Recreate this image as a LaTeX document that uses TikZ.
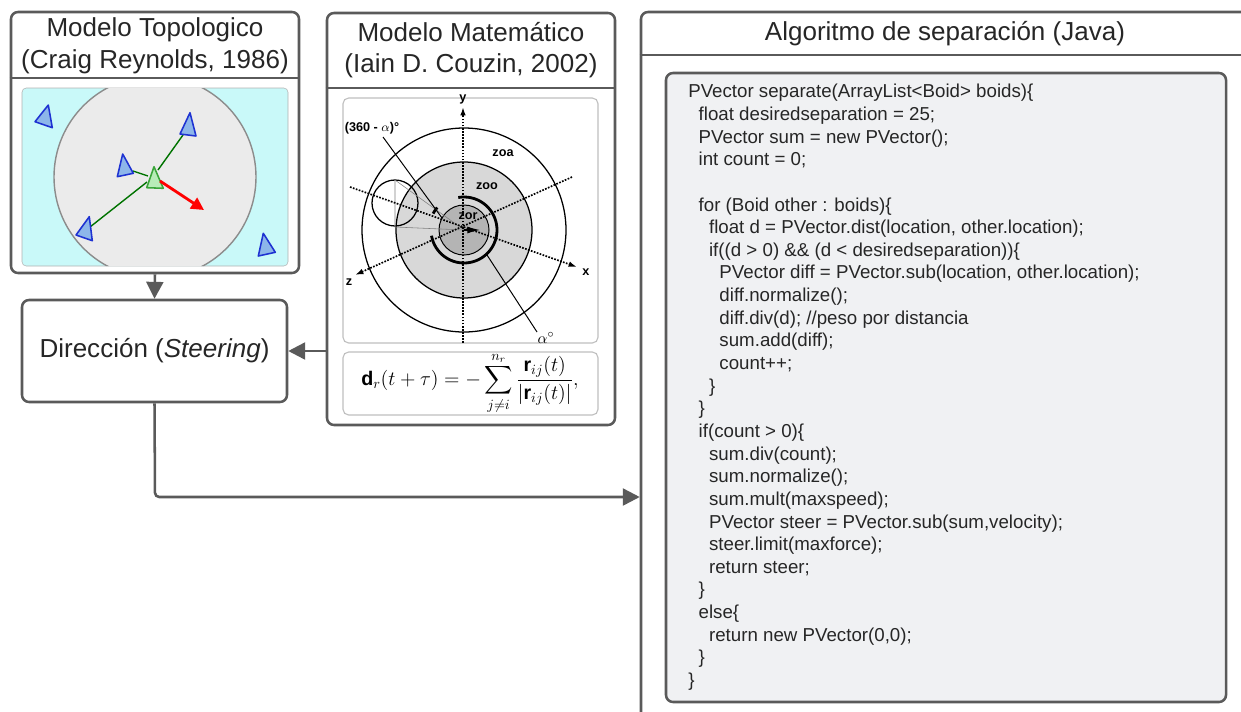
\documentclass[tikz,border=0pt]{standalone}
\usepackage{fontspec}
\setmainfont{Liberation Sans}
\usepackage{amsmath, amssymb}
\usepackage{tikz}
\usetikzlibrary{arrows.meta, positioning, fit, calc}

\definecolor{edge}{HTML}{5A5A5A}
\definecolor{skyfill}{HTML}{C9F9F9}
\definecolor{diskfill}{HTML}{EBEBEB}
\definecolor{boidblue}{HTML}{1E32D2}
\definecolor{boidfill}{HTML}{8DB6EA}
\definecolor{leadfill}{HTML}{B8ECB8}
\definecolor{leadedge}{HTML}{3AA53A}
\definecolor{codefill}{HTML}{F0F1F3}
\definecolor{zoofill}{HTML}{D8D8D8}
\definecolor{zorfill}{HTML}{B4B4B4}

\newlength{\codestep}
\setlength{\codestep}{2.6mm}

\begin{document}
\begin{tikzpicture}[x=0.025cm, y=-0.025cm,
    panel/.style={draw=edge, line width=1.8pt, rounded corners=5pt, inner sep=0pt},
    flow/.style={draw=edge, line width=1.8pt, rounded corners=3pt, -{Triangle[length=12pt, width=12pt]}},
    title/.style={font=\fontsize{18.5}{22.5}\selectfont, align=center, text=black!85},
    boid/.style={draw=boidblue, fill=boidfill, line width=1.1pt, line join=round},
    link/.style={green!45!black, line width=1pt},
    axis/.style={densely dotted, line width=1.2pt},
    tag/.style={font=\bfseries\fontsize{9}{10}\selectfont, inner sep=1pt}]
\useasboundingbox (0,0) rectangle (1241,711);
\clip (0,0) rectangle (1241,711);

% cajas principales
\node[panel, fit={(11,12) (299,273)}] (topo) {};
\node[panel, fit={(327,13) (615,425)}] (mate) {};
\node[panel, fit={(641,12) (1280,740)}] (algo) {};
\node[panel, fit={(22,300) (287,402)}] (dir) {};
\node[title] (dirtext) at (dir.center) {Dirección (\textit{Steering})};

\draw[edge, line width=1.8pt] (topo.west |- 0,78) -- (topo.east |- 0,78);
\draw[edge, line width=1.8pt] (mate.west |- 0,88) -- (mate.east |- 0,88);
\draw[edge, line width=1.8pt] (algo.west |- 0,55) -- (algo.east |- 0,55);

\node[title] (topotitle) at (155,46) {Modelo Topologico\\(Craig Reynolds, 1986)};
\node[title] (matetitle) at (471,50) {Modelo Matemático\\(Iain D. Couzin, 2002)};
\node[title] (algotitle) at (945,34) {Algoritmo de separación (Java)};

% boids y vecindario
\begin{scope}
  \draw[gray!60, fill=skyfill, rounded corners=3pt] (22,88) rectangle (288,266);
  \clip[rounded corners=3pt] (22,88) rectangle (288,266);
  \draw[gray!90, fill=diskfill, line width=1pt] (155,177) circle[radius=101];
\end{scope}
\draw[link] (158,170) -- (183,135);
\draw[link] (148,176) -- (133,171);
\draw[link] (147,182) -- (90,227);
\draw[boid] (48.3,105) -- (35,121.7) -- (52.3,127.7) -- cycle;
\draw[boid] (190,112.7) -- (180,134) -- (196,136) -- cycle;
\draw[boid] (122.7,154) -- (117.3,176.7) -- (133.3,173.3) -- cycle;
\draw[boid] (89.3,216.7) -- (76,235) -- (92.3,240.7) -- cycle;
\draw[boid] (263.3,233.3) -- (258.3,256) -- (275.3,252.3) -- cycle;
\draw[boid, draw=leadedge, fill=leadfill] (154,166.7) -- (146.7,187.7) -- (163.3,188.3) -- cycle;
\draw[red, line width=2pt, -{Triangle[length=9pt, width=9pt]}] (160,181) -- (204,210);

% zonas de Couzin
\draw[gray!50, line width=0.8pt, rounded corners=4pt] (343,98) rectangle (598,343);
\draw[gray!50, line width=0.8pt, rounded corners=4pt] (343,352) rectangle (598,415);
\coordinate (o) at (464,230);
\draw[line width=0.9pt] (o) circle[radius=102];
\draw[line width=0.9pt, fill=zoofill] (o) circle[radius=68];
\draw[line width=0.7pt, fill=zorfill] (o) circle[radius=25];
\draw[line width=2pt] (o) ++(-100:33) arc[start angle=-100, end angle=170, radius=33];
\draw[line width=2pt] (o) ++(-140:35) arc[start angle=-140, end angle=-152, radius=35];
\draw[line width=0.9pt] (395,203) circle[radius=23];
\draw[gray, line width=0.4pt] (395,180) -- (395,227) -- (o);
\draw[gray, line width=0.4pt] (395,180) -- (o);
\draw[axis, -{Latex[length=6pt, width=4pt]}] (463,343) -- (463,107);
\draw[axis, -{Latex[length=6pt, width=4pt]}] (350,187) -- (577,267);
\draw[axis, -{Latex[length=6pt, width=4pt]}] (572,177) -- (355,275);
\draw[line width=0.9pt, -{Latex[length=9pt, width=5pt]}] (o) -- ++(16,0);
\draw[line width=0.7pt] (383,137) -- (442,218);
\draw[line width=0.7pt] (487,255) -- (537,332);
\node[tag] (ylab) at (463,99) {y};
\node[tag] (xlab) at (586,272) {x};
\node[tag] (zlab) at (349,282) {z};
\node[tag] (zoa) at (503,153) {zoa};
\node[tag] (zoo) at (487,186) {zoo};
\node[tag] (zor) at (468,216) {zor};
\node[tag] (anglab) at (372,128) {(360 - $\alpha$)°};
\node[font=\fontsize{11}{12}\selectfont, inner sep=0pt] (alab) at (546,338) {$\alpha^{\circ}$};
\node[font=\fontsize{14}{17}\selectfont, inner sep=0pt] (formula) at (470,383)
  {$\mathbf{d}_r(t+\tau) = -\displaystyle\sum_{j\neq i}^{n_r}\frac{\mathbf{r}_{ij}(t)}{\left|\mathbf{r}_{ij}(t)\right|},$};

% codigo de separacion
\node[panel, fill=codefill, fit={(666,73) (1226,702)}] (codebox) {};
\node[anchor=north west, inner sep=0pt, align=left, text=black!85,
      font=\fontsize{13.3}{16.1}\selectfont] (code) at (688,84) {%
PVector separate(ArrayList<Boid> boids)\{\\
\hspace*{\codestep}float desiredseparation = 25;\\
\hspace*{\codestep}PVector sum = new PVector();\\
\hspace*{\codestep}int count = 0;\\
\mbox{}\\
\hspace*{\codestep}for (Boid other : boids)\{\\
\hspace*{2\codestep}float d = PVector.dist(location, other.location);\\
\hspace*{2\codestep}if((d > 0) \&\& (d < desiredseparation))\{\\
\hspace*{3\codestep}PVector diff = PVector.sub(location, other.location);\\
\hspace*{3\codestep}diff.normalize();\\
\hspace*{3\codestep}diff.div(d); //peso por distancia\\
\hspace*{3\codestep}sum.add(diff);\\
\hspace*{3\codestep}count++;\\
\hspace*{2\codestep}\}\\
\hspace*{\codestep}\}\\
\hspace*{\codestep}if(count > 0)\{\\
\hspace*{2\codestep}sum.div(count);\\
\hspace*{2\codestep}sum.normalize();\\
\hspace*{2\codestep}sum.mult(maxspeed);\\
\hspace*{2\codestep}PVector steer = PVector.sub(sum,velocity);\\
\hspace*{2\codestep}steer.limit(maxforce);\\
\hspace*{2\codestep}return steer;\\
\hspace*{\codestep}\}\\
\hspace*{\codestep}else\{\\
\hspace*{2\codestep}return new PVector(0,0);\\
\hspace*{\codestep}\}\\
\}};

% conexiones
\coordinate (bend) at (155,497);
\draw[flow] (topo.south) -- (dir.north);
\draw[flow] (mate.west |- dir.east) -- (dir.east);
\draw[flow] (dir.south) -- (bend) -- (bend -| algo.west);
\end{tikzpicture}
\end{document}
